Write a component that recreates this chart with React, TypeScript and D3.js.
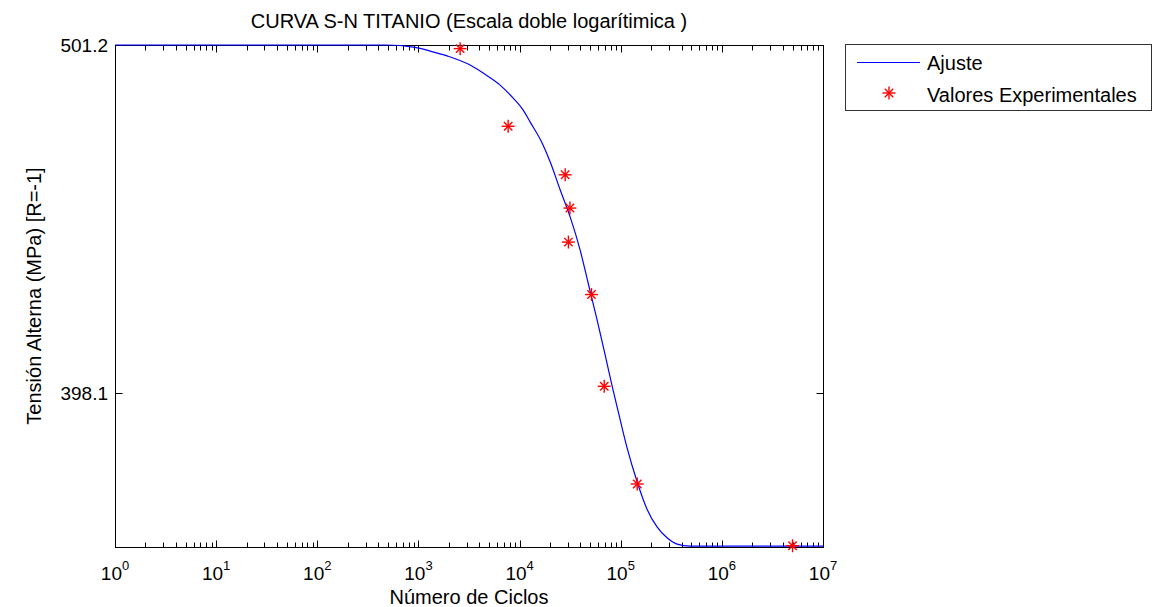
import React from 'react';
import * as d3 from 'd3';

// Fitted S-N curve
const curveN = [1, 469, 927, 1306, 1922, 3246, 4365, 6425, 8650, 10860, 12740, 16750, 20100, 25230, 31680, 39600, 47510, 58320, 69970, 82070, 94060, 115460, 144990, 182000, 228700, 287100, 360500, 484600, 1e7];
const curveS = [501.2, 501.2, 500.4, 499.2, 497.6, 494.6, 492.0, 488.1, 483.9, 480.1, 476.3, 469.7, 463.9, 455.4, 447.3, 437.8, 428.4, 418.0, 408.5, 400.2, 393.6, 384.1, 375.6, 368.8, 364.5, 361.9, 360.4, 359.9, 359.9];

// Experimental values
const expN = [2585, 7710, 28250, 31470, 30400, 51400, 68700, 145600, 5.0e6];
const expS = [500, 475, 460, 450, 440, 425, 400, 375, 360];

// Axis ticks
const yTickValues = [398.107, 501.187];
const yTickLabels = ['398.1', '501.2'];
const xDomain = [1, 1e7];
const yDomain = [359.7, 501.2];

const title = 'CURVA S-N TITANIO (Escala doble logarítimica )';
const xLabel = 'Número de Ciclos';
const yLabel = 'Tensión Alterna (MPa) [R=-1]';
const legendLabels = ['Ajuste', 'Valores Experimentales'];

const FONT = '"Liberation Sans", Arial, Helvetica, sans-serif';

function Star({ cx, cy }: { cx: number; cy: number }) {
  const a = 6.5;
  const b = 4.2;
  return (
    <g stroke="#ff0000" strokeWidth={1.4} fill="none">
      <line x1={cx - a} x2={cx + a} y1={cy} y2={cy} />
      <line x1={cx} x2={cx} y1={cy - a} y2={cy + a} />
      <line x1={cx - b} x2={cx + b} y1={cy - b} y2={cy + b} />
      <line x1={cx - b} x2={cx + b} y1={cy + b} y2={cy - b} />
    </g>
  );
}

export default function App() {
  const W = 1153;
  const H = 607;
  const L = 115, R = 823, T = 45, B = 547;

  const x = d3.scaleLog().domain(xDomain).range([L, R]);
  const y = d3.scaleLog().domain(yDomain).range([B, T]);

  const pts: [number, number][] = curveN.map((n, i) => [x(n), y(curveS[i])]);
  const line = d3.line<[number, number]>().x(d => d[0]).y(d => d[1]).curve(d3.curveMonotoneX);
  const path = line(pts) || '';

  const xt = x.ticks();
  const crisp = (v: number) => Math.round(v) + 0.5;

  return (
    <svg width={W} height={H} style={{ position: 'absolute', left: 0, top: 0, background: '#fff' }} fontFamily={FONT}>
      <rect x={0} y={0} width={W} height={H} fill="#fff" />
      {/* axes box */}
      <rect x={L + 0.5} y={T + 0.5} width={R - L} height={B - T} fill="#fff" stroke="#000" strokeWidth={1} />
      {/* x ticks */}
      {xt.map((v, i) => {
        const lg = Math.log10(v);
        const major = Math.abs(lg - Math.round(lg)) < 1e-9;
        const len = major ? 7 : 5;
        const px = crisp(x(v));
        return (
          <g key={'xt' + i} stroke="#000" strokeWidth={1}>
            <line x1={px} x2={px} y1={B + 0.5} y2={B + 0.5 - len} />
            <line x1={px} x2={px} y1={T + 0.5} y2={T + 0.5 + len} />
          </g>
        );
      })}
      {/* x tick labels */}
      {xt.filter(v => Math.abs(Math.log10(v) - Math.round(Math.log10(v))) < 1e-9).map((v, i) => (
        <text key={'xl' + i} x={x(v)} y={580} textAnchor="middle" fontSize={19} fill="#000">
          10<tspan dy={-10} fontSize={13}>{Math.round(Math.log10(v))}</tspan>
        </text>
      ))}
      {/* y ticks */}
      {yTickValues.map((v, i) => {
        const py = crisp(y(v));
        return (
          <g key={'yt' + i}>
            <line x1={L + 0.5} x2={L + 0.5 + 7} y1={py} y2={py} stroke="#000" />
            <line x1={R + 0.5} x2={R + 0.5 - 7} y1={py} y2={py} stroke="#000" />
            <text x={108} y={y(v)} dy="0.35em" textAnchor="end" fontSize={19} fill="#000">{yTickLabels[i]}</text>
          </g>
        );
      })}
      {/* fitted curve */}
      <path d={path} fill="none" stroke="#0000ff" strokeWidth={1.2} />
      {/* experimental points */}
      {expN.map((n, i) => (
        <Star key={'s' + i} cx={x(n)} cy={y(expS[i])} />
      ))}
      {/* title and labels */}
      <text x={(L + R) / 2} y={28} textAnchor="middle" fontSize={20} fill="#000">{title}</text>
      <text x={(L + R) / 2} y={604} textAnchor="middle" fontSize={20} fill="#000">{xLabel}</text>
      <text transform={`translate(41,${(T + B) / 2}) rotate(-90)`} textAnchor="middle" fontSize={20} fill="#000">{yLabel}</text>
      {/* legend */}
      <rect x={845.5} y={44.5} width={306} height={66} fill="#fff" stroke="#333" strokeWidth={1} />
      <line x1={857} x2={920} y1={62.5} y2={62.5} stroke="#0000ff" strokeWidth={1.2} />
      <text x={927} y={70} fontSize={20} fill="#000">{legendLabels[0]}</text>
      <Star cx={889} cy={93} />
      <text x={927} y={101.5} fontSize={20} fill="#000">{legendLabels[1]}</text>
    </svg>
  );
}
